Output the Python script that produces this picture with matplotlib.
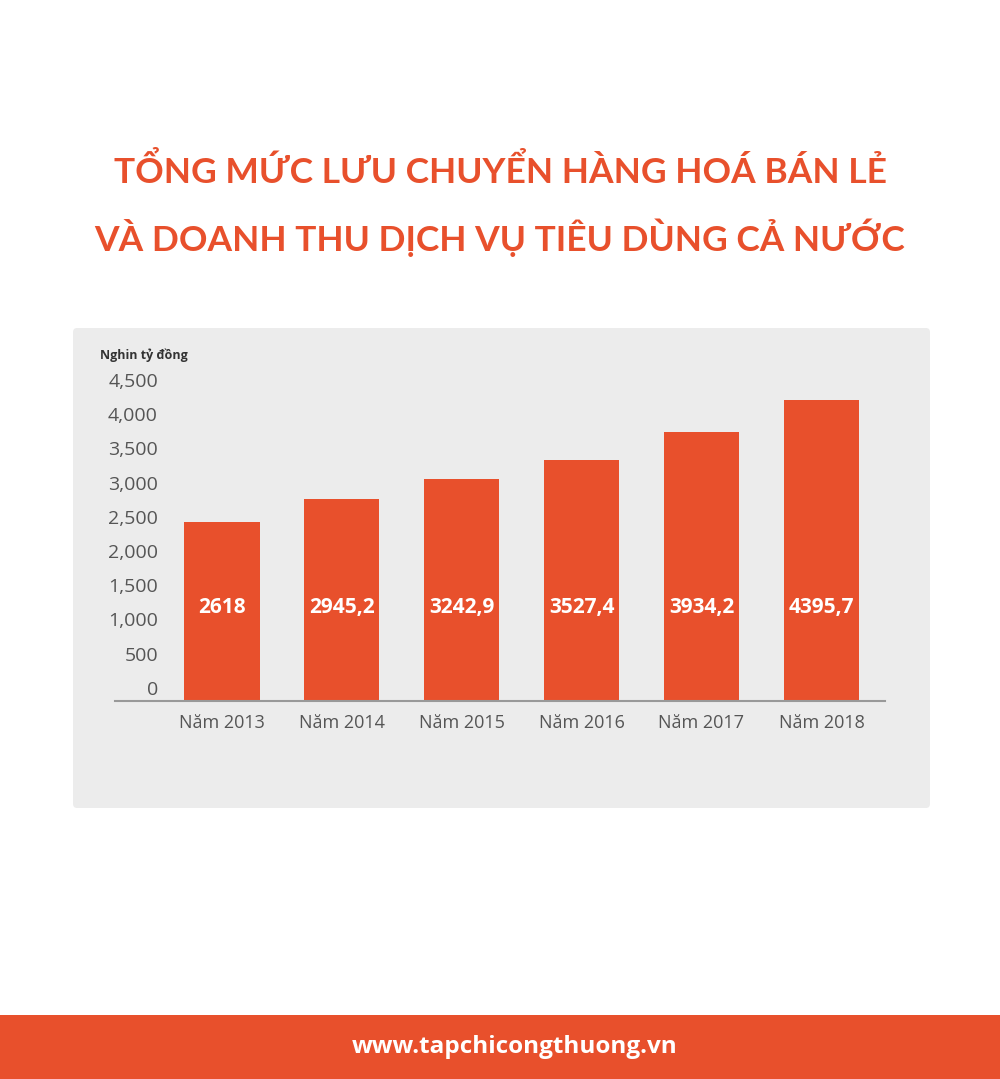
import matplotlib.pyplot as plt
from matplotlib.patches import FancyBboxPatch, Rectangle
from matplotlib.transforms import blended_transform_factory, offset_copy

years = ["Năm 2013", "Năm 2014", "Năm 2015", "Năm 2016", "Năm 2017", "Năm 2018"]
values = [2618, 2945.2, 3242.9, 3527.4, 3934.2, 4395.7]
value_labels = ["2618", "2945,2", "3242,9", "3527,4", "3934,2", "4395,7"]
y_ticks = [0, 500, 1000, 1500, 2000, 2500, 3000, 3500, 4000, 4500]

ORANGE = "#e8502c"
GREY_BG = "#ececec"
TEXT = "#555555"
W, H = 1000, 1079

plt.rcParams['font.family'] = ['Open Sans', 'DejaVu Sans']
fig = plt.figure(figsize=(W / 100, H / 100), dpi=100)
fig.patch.set_facecolor("white")

# grey panel and footer band, placed in figure pixels
panel = FancyBboxPatch((73 / W, 1 - 808 / H), (930 - 73) / W, (808 - 328) / H,
                       boxstyle="round,pad=0,rounding_size=0.004",
                       transform=fig.transFigure, facecolor=GREY_BG, edgecolor="none", zorder=-2)
fig.patches.append(panel)
fig.patches.append(Rectangle((0, 0), 1, (H - 1015) / H, transform=fig.transFigure,
                             facecolor=ORANGE, edgecolor="none", zorder=-2))

title_font = ['Lato', 'DejaVu Sans']
fig.text(0.5, 1 - 171 / H, "TỔNG MỨC LƯU CHUYỂN HÀNG HOÁ BÁN LẺ", ha="center", va="center",
         fontsize=25.5, fontweight="bold", color=ORANGE, family=title_font)
fig.text(0.5, 1 - 238 / H, "VÀ DOANH THU DỊCH VỤ TIÊU DÙNG CẢ NƯỚC", ha="center", va="center",
         fontsize=25.5, fontweight="bold", color=ORANGE, family=title_font)
fig.text(0.515, 1 - 1047 / H, "www.tapchicongthuong.vn", ha="center", va="center",
         fontsize=17.5, fontweight="bold", color="white")

# axes: baseline at y=701px, 4500 at ~393px
ax_left, ax_right = 115, 885
ax_bottom, ax_top = 701, 393
ax = fig.add_axes([ax_left / W, 1 - ax_bottom / H, (ax_right - ax_left) / W, (ax_bottom - ax_top) / H])
ax.set_facecolor("none")

x = list(range(len(years)))
ax.bar(x, values, width=0.63, color=ORANGE)
ax.set_xlim(-0.89, 5.53)
ax.set_ylim(0, 4500)

for xi, lab in zip(x, value_labels):
    ax.text(xi, 1370, lab, ha="center", va="center", color="white",
            fontsize=15, fontweight="bold")

ax.set_xticks(x)
ax.set_xticklabels(years, fontsize=13, color=TEXT)
ax.tick_params(axis="x", length=0, pad=9)
ax.set_yticks([])

for s in ["top", "right", "left"]:
    ax.spines[s].set_visible(False)
ax.spines["bottom"].set_color("#999999")
ax.spines["bottom"].set_linewidth(1.5)

# y tick labels sit a little above their value, right-aligned near x=158px
trans = offset_copy(blended_transform_factory(fig.transFigure, ax.transData), fig=fig,
                    x=0, y=8, units="points")
for t in y_ticks:
    ax.text(158 / W, t, f"{t:,}", transform=trans, ha="right", va="center",
            fontsize=14, color=TEXT)

fig.text(100 / W, 1 - 355 / H, "Nghin tỷ đồng", ha="left", va="center",
         fontsize=9, fontweight="bold", color="#333333")

fig.savefig("out.png", dpi=100)
